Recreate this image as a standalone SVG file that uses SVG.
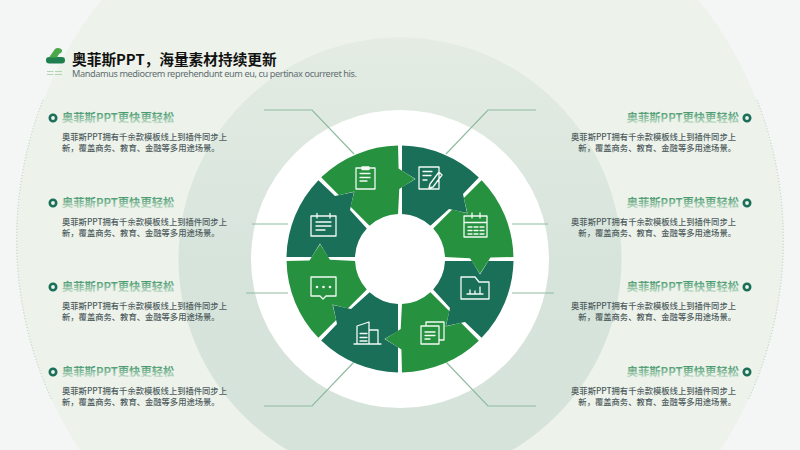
<svg xmlns="http://www.w3.org/2000/svg" width="800" height="450" viewBox="0 0 800 450">
<style>
text{font-family:"Noto Sans CJK SC","Liberation Sans",sans-serif}
.dk{fill:#1a6f58}.gr{fill:#26913e}
.ic{fill:none;stroke:#f2faf4;stroke-width:1.3;stroke-linejoin:round;stroke-linecap:round}
.ln{fill:none;stroke:#8fbba0;stroke-width:1.2}
.h{font-size:11.3px;font-weight:700;fill:url(#hg)}
.b{font-size:8.3px;font-weight:500;fill:#4f5d60}
.r{text-anchor:end}
.bu{fill:#eef3ec;stroke:#1a6f58;stroke-width:2.6}
</style>
<defs>
<linearGradient id="mg" x1="0" y1="0" x2="0" y2="1"><stop offset="0" stop-color="#e4ece3"/><stop offset="0.5" stop-color="#d7e4dc"/><stop offset="1" stop-color="#d5e3da"/></linearGradient>
<linearGradient id="hg" x1="0" y1="0" x2="0" y2="1"><stop offset="0.15" stop-color="#3f9468"/><stop offset="0.9" stop-color="#c2dcc8"/></linearGradient>
<path id="s" d="M2,-113.5A113.5,113.5 0 0 1 78.8,-81.6L63,-65L67,-46L49,-50L30.4,-33.2A45,45 0 0 0 2,-45L2,-71.9L15.5,-80L2,-88.3Z"/>
</defs>
<rect width="800" height="450" fill="#f4f5f5"/>
<g id="backdrop">
<circle cx="400" cy="240" r="383" fill="#edf2ea"/>
<path d="M757,100A383,383 0 0 1 748,400M43,100A383,383 0 0 0 52,400" fill="none" stroke="#a9cbb2" stroke-width="1" stroke-dasharray="1 2"/>
<circle cx="400" cy="259" r="221.500" fill="url(#mg)"/>
<circle cx="400" cy="259" r="149" fill="#fff"/>
</g>
<g id="connectors">
<path class="ln" d="M264,110H312L354,154"/>
<path class="ln" d="M536,110H488L446,154"/>
<path class="ln" d="M252,224H288"/>
<path class="ln" d="M548,224H512"/>
<path class="ln" d="M246,293H288"/>
<path class="ln" d="M554,293H512"/>
<path class="ln" d="M264,406H312L354,362"/>
<path class="ln" d="M536,406H488L446,362"/>
</g>
<g id="logo">
<rect x="46" y="57" width="19" height="6.500" rx="3.200" fill="#1f7f4f"/>
<path d="M49,57.500L55,49C57,47 61,48 62,50C62.500,52 61,53 59,54L57,57.500Z" fill="#4aa94b"/>
<path d="M47,71.500H53.500M55,71.500H62M47,74.500H53.500M55,74.500H62" stroke="#aed6b4" stroke-width="1" fill="none"/>
</g>
<g id="title">
<text x="72" y="64.500" font-size="14.7" font-weight="700" fill="#111">奥菲斯PPT，海量素材持续更新</text>
<text x="72" y="77" style="font-family:'Noto Sans',sans-serif" font-size="9.2" fill="#5f6e72" textLength="285">Mandamus mediocrem reprehendunt eum eu, cu pertinax ocurreret his.</text>
</g>
<g id="seg1"><use href="#s" class="dk" transform="translate(400 259)"/>
<path class="ic" d="M419,167H439V189H419ZM423,171.500H432M423,175.500H431M423,180H427M430,184L429,188L433,187L442,175L439,172Z"/></g>
<g id="seg2"><use href="#s" class="gr" transform="translate(400 259) rotate(45)"/>
<path class="ic" d="M464,216H487V237H464ZM464,222.500H487M472,213V218M480,213V218M468,227H472M474,227H478M480,227H484M468,230.500H472M474,230.500H478M480,230.500H484M468,234H472M474,234H478M480,234H484"/></g>
<g id="seg3"><use href="#s" class="dk" transform="translate(400 259) rotate(90)"/>
<path class="ic" d="M461,277H475L479,282H489V299H461ZM467,294H483M470,294V290M475,294V291M480,294V287"/></g>
<g id="seg4"><use href="#s" class="gr" transform="translate(400 259) rotate(135)"/>
<path class="ic" d="M421,326H439V344H421ZM426,326V322H444V340H439M425,332H435M425,335.500H435M425,339H430"/></g>
<g id="seg5"><use href="#s" class="dk" transform="translate(400 259) rotate(180)"/>
<path class="ic" d="M354,344H381M357,344V326L369,322V344M369,330H378V344M360,333.500H367M360,337.500H367M360,341H367"/></g>
<g id="seg6"><use href="#s" class="gr" transform="translate(400 259) rotate(225)"/>
<path class="ic" d="M311,277H336V296H326L323,299L320,296H311Z"/>
<circle cx="317" cy="287" r="1.300" fill="#f2faf4"/><circle cx="323.500" cy="287" r="1.300" fill="#f2faf4"/><circle cx="330" cy="287" r="1.300" fill="#f2faf4"/></g>
<g id="seg7"><use href="#s" class="dk" transform="translate(400 259) rotate(270)"/>
<path class="ic" d="M311,216H336V236H311ZM317,213.500V218M330,213.500V218M316,222H331M316,226H331M316,230H325"/></g>
<g id="seg8"><use href="#s" class="gr" transform="translate(400 259) rotate(315)"/>
<path class="ic" d="M356,168H375V189H356ZM362,167H369V169.500H362ZM360,173.500H370M360,177.500H370M360,181H367"/></g>
<g id="item-l1"><circle class="bu" cx="53" cy="118" r="3.200"/><text class="h" x="62" y="122">奥菲斯PPT更快更轻松</text><text class="b" x="62" y="139.500">奥菲斯PPT拥有千余款模板线上到插件同步上</text><text class="b" x="62" y="151">新，覆盖商务、教育、金融等多用途场景。</text></g>
<g id="item-l2"><circle class="bu" cx="53" cy="203" r="3.200"/><text class="h" x="62" y="207">奥菲斯PPT更快更轻松</text><text class="b" x="62" y="224.500">奥菲斯PPT拥有千余款模板线上到插件同步上</text><text class="b" x="62" y="236">新，覆盖商务、教育、金融等多用途场景。</text></g>
<g id="item-l3"><circle class="bu" cx="53" cy="287" r="3.200"/><text class="h" x="62" y="291">奥菲斯PPT更快更轻松</text><text class="b" x="62" y="308.500">奥菲斯PPT拥有千余款模板线上到插件同步上</text><text class="b" x="62" y="320">新，覆盖商务、教育、金融等多用途场景。</text></g>
<g id="item-l4"><circle class="bu" cx="53" cy="372" r="3.200"/><text class="h" x="62" y="376">奥菲斯PPT更快更轻松</text><text class="b" x="62" y="393.500">奥菲斯PPT拥有千余款模板线上到插件同步上</text><text class="b" x="62" y="405">新，覆盖商务、教育、金融等多用途场景。</text></g>
<g id="item-r1"><circle class="bu" cx="747" cy="118" r="3.200"/><text class="h r" x="739" y="122">奥菲斯PPT更快更轻松</text><text class="b r" x="736" y="139.500">奥菲斯PPT拥有千余款模板线上到插件同步上</text><text class="b r" x="736" y="151">新，覆盖商务、教育、金融等多用途场景。</text></g>
<g id="item-r2"><circle class="bu" cx="747" cy="203" r="3.200"/><text class="h r" x="739" y="207">奥菲斯PPT更快更轻松</text><text class="b r" x="736" y="224.500">奥菲斯PPT拥有千余款模板线上到插件同步上</text><text class="b r" x="736" y="236">新，覆盖商务、教育、金融等多用途场景。</text></g>
<g id="item-r3"><circle class="bu" cx="747" cy="287" r="3.200"/><text class="h r" x="739" y="291">奥菲斯PPT更快更轻松</text><text class="b r" x="736" y="308.500">奥菲斯PPT拥有千余款模板线上到插件同步上</text><text class="b r" x="736" y="320">新，覆盖商务、教育、金融等多用途场景。</text></g>
<g id="item-r4"><circle class="bu" cx="747" cy="372" r="3.200"/><text class="h r" x="739" y="376">奥菲斯PPT更快更轻松</text><text class="b r" x="736" y="393.500">奥菲斯PPT拥有千余款模板线上到插件同步上</text><text class="b r" x="736" y="405">新，覆盖商务、教育、金融等多用途场景。</text></g>
</svg>
